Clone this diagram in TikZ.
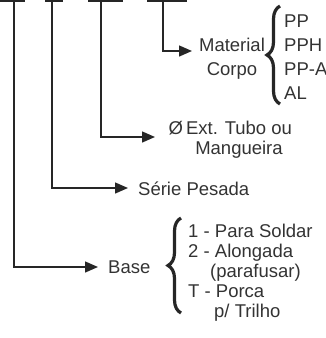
\documentclass[tikz,border=0pt]{standalone}
\usepackage{fontspec}
\setmainfont{Liberation Sans}
\usetikzlibrary{arrows.meta,decorations.pathreplacing}
\begin{document}
\begin{tikzpicture}[x=1pt,y=-1pt,
  conn/.style={line width=1.4pt, draw=black!85},
  arr/.style={conn,-{Triangle[length=13pt,width=11pt]}},
  blank/.style={line width=1.4pt, draw=black!85},
  lbl/.style={font=\fontsize{18.5}{24}\selectfont, text=black!80, inner sep=0pt},
  brc/.style={decorate, decoration={brace,amplitude=13pt,aspect=0.5}, line width=3.2pt, draw=black!85}]
\useasboundingbox (0,0) rectangle (326,338);
% blanks at the top
\draw[blank] (0,1) -- (25,1);
\draw[blank] (45,1) -- (63,1);
\draw[blank] (88,1) -- (123,1);
\draw[blank] (147,1) -- (187,1);
\coordinate (t1) at (14,1);
\coordinate (t2) at (52,1);
\coordinate (t3) at (101,1);
\coordinate (t4) at (163,1);
% arrow ends
\coordinate (a1) at (98,267);
\coordinate (a2) at (128,188);
\coordinate (a3) at (155,137);
\coordinate (a4) at (192,51);
\draw[arr] (t1) |- (a1);
\draw[arr] (t2) |- (a2);
\draw[arr] (t3) |- (a3);
\draw[arr] (t4) |- (a4);
% labels
\node[lbl, anchor=base] (mat1) at (232,51) {Material};
\node[lbl, anchor=base] (mat2) at (232,75) {Corpo};
\node[lbl, anchor=base] (ext1) at (239,134) {\llap{Ø\,}Ext. Tubo ou};
\node[lbl, anchor=base] (ext2) at (239,154) {Mangueira};
\node[lbl, anchor=base west] (ser) at (138,195) {Série Pesada};
\node[lbl, anchor=base west] (base) at (108,273) {Base};
% braces
\draw[brc] (280,104) -- (280,6);
\node[lbl, anchor=base west] (m1) at (284,27) {PP};
\node[lbl, anchor=base west] (m2) at (284,51) {PPH};
\node[lbl, anchor=base west] (m3) at (284,75) {PP-AC};
\node[lbl, anchor=base west] (m4) at (284,99) {AL};
\draw[brc] (181,313) -- (181,218);
\node[lbl, anchor=base west] (b1) at (188,237) {1 - Para Soldar};
\node[lbl, anchor=base west] (b2) at (188,257) {2 - Alongada};
\node[lbl, anchor=base west] (b3) at (210,277) {(parafusar)};
\node[lbl, anchor=base west] (b4) at (188,297) {T - Porca};
\node[lbl, anchor=base west] (b5) at (214,317) {p/ Trilho};
\end{tikzpicture}
\end{document}
